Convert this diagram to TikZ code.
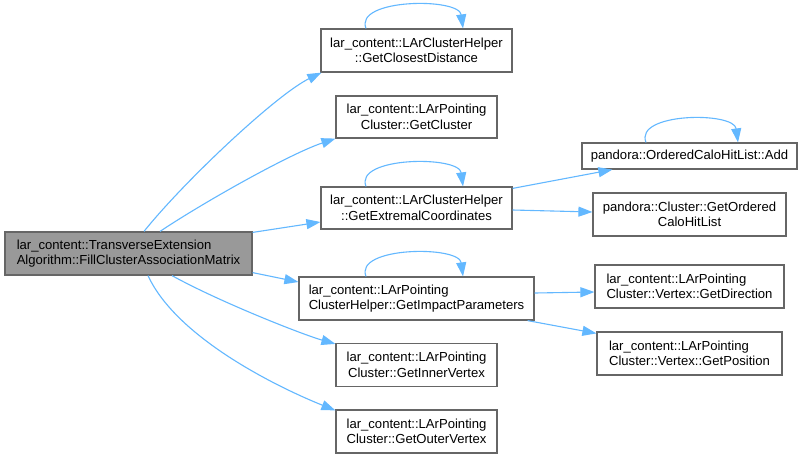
\documentclass[tikz,border=0pt]{standalone}
\usepackage{fontspec}
\setmainfont{Liberation Sans}
\usetikzlibrary{arrows.meta,calc}
\definecolor{edgeblue}{HTML}{63B8FF}
\definecolor{boxborder}{HTML}{666666}
\definecolor{mainfill}{HTML}{999999}
\begin{document}
\begin{tikzpicture}[x=1pt,y=-1pt,
  fn/.style={draw=boxborder,line width=1.2pt,fill=white,inner sep=0pt,
    font=\fontsize{13.1}{15.6}\selectfont,align=center},
  fnleft/.style={fn,align=left},
  mainbox/.style={fnleft,fill=mainfill},
  call/.style={draw=edgeblue,line width=1.1pt,-{Triangle[length=14pt,width=10pt]}}
]
\useasboundingbox (0,0) rectangle (803,459);
\fill[white] (0,0) rectangle (803,459);

\node[mainbox,minimum width=247pt,minimum height=43pt] (main) at (128.5,253.5)
  {lar\_content::TransverseExtension\\Algorithm::FillClusterAssociationMatrix};
\node[fn,minimum width=191pt,minimum height=43pt] (cd) at (416.5,50.5)
  {lar\_content::LArClusterHelper\\::GetClosestDistance};
\node[fn,minimum width=161pt,minimum height=42pt] (gc) at (416.5,117)
  {lar\_content::LArPointing\\Cluster::GetCluster};
\node[fn,minimum width=191pt,minimum height=42pt] (ec) at (416.5,208)
  {lar\_content::LArClusterHelper\\::GetExtremalCoordinates};
\node[fnleft,minimum width=235pt,minimum height=43pt] (ip) at (416.5,298.5)
  {lar\_content::LArPointing\\ClusterHelper::GetImpactParameters};
\node[fn,minimum width=161pt,minimum height=43pt] (iv) at (416.5,365)
  {lar\_content::LArPointing\\Cluster::GetInnerVertex};
\node[fn,minimum width=161pt,minimum height=43pt] (ov) at (416.5,431.5)
  {lar\_content::LArPointing\\Cluster::GetOuterVertex};
\node[fn,minimum width=215pt,minimum height=26pt] (add) at (689.5,156)
  {pandora::OrderedCaloHitList::Add};
\node[fn,minimum width=193pt,minimum height=43pt] (goch) at (689.5,214.5)
  {pandora::Cluster::GetOrdered\\CaloHitList};
\node[fnleft,minimum width=189pt,minimum height=43pt] (dir) at (689.5,286.5)
  {lar\_content::LArPointing\\Cluster::Vertex::GetDirection};
\node[fnleft,minimum width=185pt,minimum height=43pt] (pos) at (689.5,353.5)
  {lar\_content::LArPointing\\Cluster::Vertex::GetPosition};

% edges from main
\draw[call] ([xshift=15.5pt]main.north) .. controls +(40,-50) and +(-45,22) .. ([xshift=1pt]cd.south west);
\draw[call] ([xshift=31.5pt]main.north) .. controls +(45,-30) and +(-45,15) .. (gc.south west);
\draw[call] ([yshift=-1pt]main.north east) -- ([yshift=-14pt]ec.west);
\draw[call] ([yshift=3pt]main.south east) -- ([yshift=16.5pt]ip.west);
\draw[call] ([xshift=43.5pt]main.south) .. controls +(45,25) and +(-35,-10) .. ([yshift=-1pt]iv.north west);
\draw[call] ([xshift=19.5pt]main.south) .. controls +(30,65) and +(-50,-20) .. ([yshift=-1pt]ov.north west);

% self loops
\draw[call] ([xshift=-50.5pt]cd.north) .. controls +(-12,-30) and +(-4,-31) .. ([xshift=46.5pt]cd.north);
\draw[call] ([xshift=-50.5pt]ec.north) .. controls +(-12,-30) and +(-4,-31) .. ([xshift=46.5pt]ec.north);
\draw[call] ([xshift=-50.5pt]ip.north) .. controls +(-12,-30) and +(-4,-31) .. ([xshift=46.5pt]ip.north);
\draw[call] ([xshift=-43.5pt]add.north) .. controls +(-12,-30) and +(-4,-31) .. ([xshift=48.5pt]add.north);

% edges from GetExtremalCoordinates
\draw[call] ([yshift=-2pt]ec.north east) -- ([xshift=31pt]add.south west);
\draw[call] ([yshift=-2pt]ec.east) -- ([yshift=2.5pt]goch.west);

% edges from GetImpactParameters
\draw[call] ([yshift=5.5pt]ip.east) -- ([yshift=-5.5pt]dir.west);
\draw[call] ([xshift=-7pt]ip.south east) -- ([yshift=-2pt]pos.north west);
\end{tikzpicture}
\end{document}
